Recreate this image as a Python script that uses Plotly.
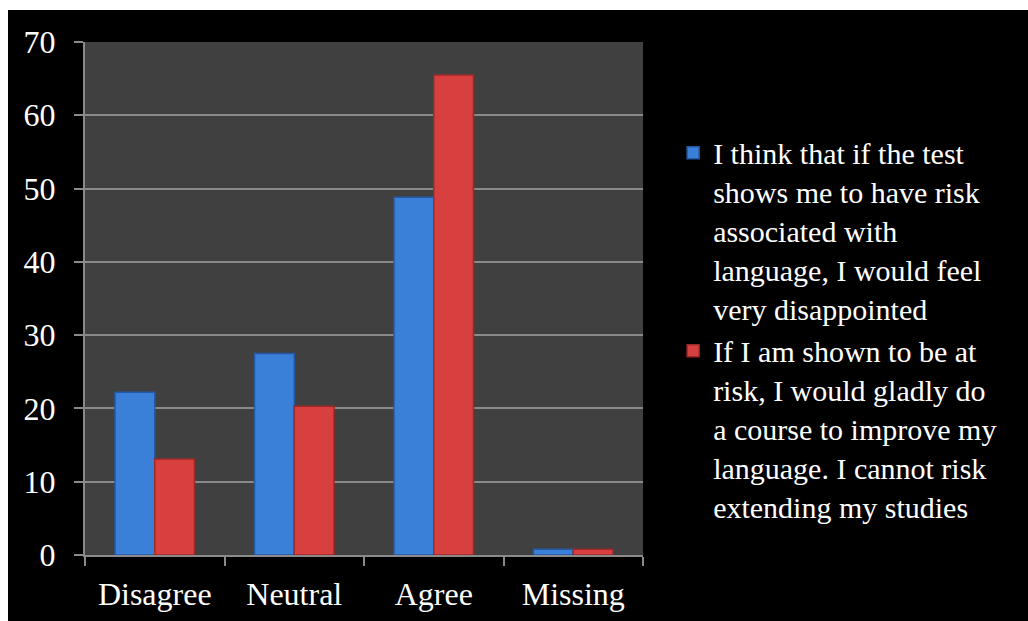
import plotly.graph_objects as go

categories = ["Disagree", "Neutral", "Agree", "Missing"]
disappointed = [22.2, 27.5, 48.8, 0.8]
gladly_course = [13.1, 20.3, 65.5, 0.8]
series_names = [
    "I think that if the test<br>shows me to have risk<br>associated with<br>language, I would feel<br>very disappointed",
    "If I am shown to be at<br>risk, I would gladly do<br>a course to improve my<br>language. I cannot risk<br>extending my studies",
]
y_ticks = [0, 10, 20, 30, 40, 50, 60, 70]

FONT = "Liberation Serif, Times New Roman, serif"

fig = go.Figure()
fig.add_trace(go.Bar(
    x=categories, y=disappointed, name=series_names[0], legendgroup="a",
    marker=dict(color="#3a7fd8", line=dict(color="#245aa5", width=1.5)),
))
fig.add_trace(go.Bar(
    x=categories, y=gladly_course, name=series_names[1], legendgroup="b",
    marker=dict(color="#d84040", line=dict(color="#9c2828", width=1.5)),
))

# black slide frame and dark-grey plotting area
fig.add_shape(type="rect", xref="paper", yref="paper", x0=-0.138, x1=1.7, y0=-0.2, y1=1.0624,
              fillcolor="black", line_width=0, layer="below")
fig.add_shape(type="rect", xref="paper", yref="paper", x0=0, x1=1, y0=0, y1=1,
              fillcolor="#404040", line_width=0, layer="below")

fig.update_layout(
    width=1028, height=621,
    margin=dict(l=85, r=385, t=42, b=66),
    paper_bgcolor="white", plot_bgcolor="#404040",
    barmode="group", bargap=0.43, bargroupgap=0.0,
    font=dict(family=FONT, size=32, color="white"),
    showlegend=True,
    legend=dict(x=1.054, y=0.835, xanchor="left", yanchor="top", valign="top",
                font=dict(family=FONT, size=30, color="white"),
                bgcolor="rgba(0,0,0,0)", tracegroupgap=0, itemwidth=30),
)
fig.update_xaxes(
    showline=True, linecolor="#8a8a8a", linewidth=2, automargin=False,
    ticks="outside", tickson="boundaries", ticklen=9, tickcolor="#8a8a8a", tickwidth=2,
    showgrid=False, ticklabelstandoff=10,
    tickfont=dict(family=FONT, size=32, color="white"),
)
fig.update_yaxes(
    range=[0, 70], tickvals=y_ticks, showline=True, linecolor="#8a8a8a", linewidth=2,
    automargin=False,
    ticks="outside", ticklen=9, tickcolor="#8a8a8a", tickwidth=2,
    showgrid=True, gridcolor="#8a8a8a", gridwidth=2, zeroline=False,
    ticklabelstandoff=12,
    tickfont=dict(family=FONT, size=32, color="white"),
)

fig.write_html("out.html")
